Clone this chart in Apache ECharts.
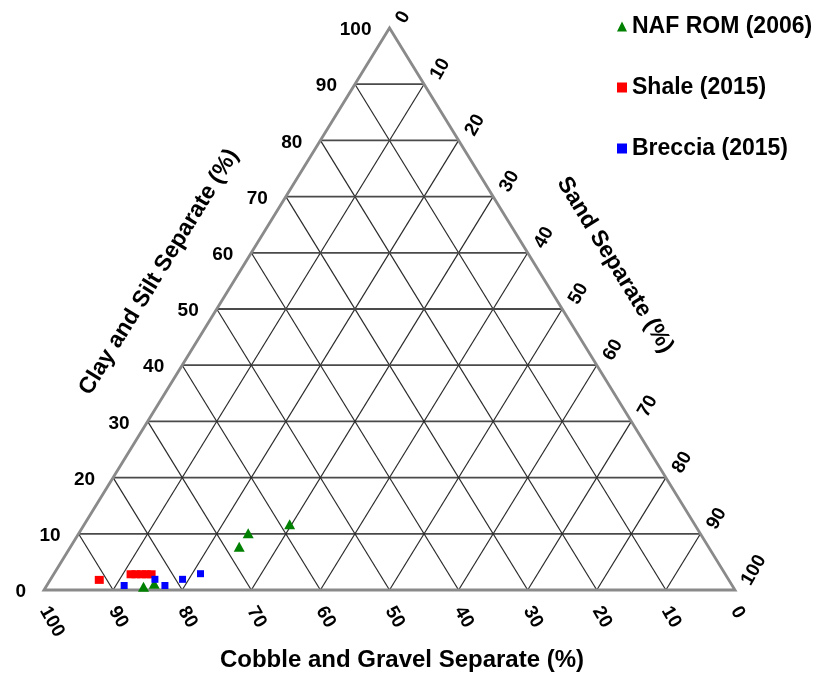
<!DOCTYPE html>
<html>
<head>
<meta charset="utf-8">
<script src="https://cdn.jsdelivr.net/npm/echarts@6/dist/echarts.min.js"></script>
<style>
  html, body { margin: 0; padding: 0; background: #ffffff; }
  #chart { width: 826px; height: 675px; }
</style>
</head>
<body>
<div id="chart"></div>
<script>
// Sample compositions, each as [cobble & gravel, clay & silt, sand] in percent
const nafRom2006 = [
  [65.4, 10.1, 24.5],
  [67.9, 7.7, 24.4],
  [58.6, 11.7, 29.7],
  [85.3, 0.6, 14.1],
  [83.5, 1.1, 15.4]
];
const shale2015 = [
  [91.1, 1.8, 7.1],
  [86.0, 2.8, 11.2],
  [85.3, 2.8, 11.9],
  [84.5, 2.8, 12.7],
  [83.8, 2.8, 13.4],
  [83.1, 2.8, 14.1]
];
const breccia2015 = [
  [88.0, 0.8, 11.2],
  [83.0, 1.9, 15.1],
  [82.1, 0.8, 17.1],
  [79.0, 1.9, 19.1],
  [75.9, 2.9, 21.2]
];
const seriesNames = ['NAF ROM (2006)', 'Shale (2015)', 'Breccia (2015)'];
const tickValues = [0, 10, 20, 30, 40, 50, 60, 70, 80, 90, 100];
const titleBottom = 'Cobble and Gravel Separate (%)';
const titleLeft = 'Clay and Silt Separate (%)';
const titleRight = 'Sand Separate (%)';

const FONT = '"Liberation Sans", Arial, sans-serif';

// Ternary [cobble, clay, sand] -> plane: x runs cobble corner (0) to sand corner (100), y is clay
function toXY(t) {
  const sum = t[0] + t[1] + t[2];
  const clay = t[1] / sum * 100;
  const sand = t[2] / sum * 100;
  return [sand + clay / 2, clay];
}

// Grid lines every 10 %: constant clay, constant sand, constant cobble
const gridLines = [];
for (let k = 10; k < 100; k += 10) {
  let a = toXY([100 - k, k, 0]), b = toXY([0, k, 100 - k]);
  gridLines.push([a[0], a[1], b[0], b[1], 0]);
  a = toXY([100 - k, 0, k]); b = toXY([0, 100 - k, k]);
  gridLines.push([a[0], a[1], b[0], b[1], 1]);
  a = toXY([k, 0, 100 - k]); b = toXY([k, 100 - k, 0]);
  gridLines.push([a[0], a[1], b[0], b[1], 1]);
}
const frame = [toXY([100, 0, 0]), toXY([0, 100, 0]), toXY([0, 0, 100])];

// Tick labels: [x, y, value, side]  side 0 = clay (left), 1 = cobble (bottom), 2 = sand (right)
const tickLabels = [];
tickValues.forEach(function (v) {
  let p = toXY([100 - v, v, 0]);
  tickLabels.push([p[0], p[1], v, 0]);
  p = toXY([v, 0, 100 - v]);
  tickLabels.push([p[0], p[1], v, 1]);
  p = toXY([0, 100 - v, v]);
  tickLabels.push([p[0], p[1], v, 2]);
});

const chart = echarts.init(document.getElementById('chart'), null, { renderer: 'canvas' });

const edgeAngle = Math.atan2(562, 346);

chart.setOption({
  animation: false,
  backgroundColor: '#ffffff',
  grid: { left: 44, right: 91, top: 28, bottom: 85 },
  xAxis: { type: 'value', min: 0, max: 100, show: false },
  yAxis: { type: 'value', min: 0, max: 100, show: false },
  legend: {
    orient: 'vertical',
    left: 612,
    top: 10,
    itemWidth: 10,
    itemHeight: 10,
    itemGap: 38,
    selectedMode: false,
    textStyle: { fontFamily: FONT, fontSize: 23, fontWeight: 'bold', color: '#000', lineHeight: 22 },
    data: [
      { name: seriesNames[0], icon: 'triangle' },
      { name: seriesNames[1], icon: 'rect' },
      { name: seriesNames[2], icon: 'rect' }
    ]
  },
  graphic: [
    {
      type: 'text', x: 402, y: 660, silent: true,
      style: { text: titleBottom, font: 'bold 24px ' + FONT, fill: '#000', align: 'center', verticalAlign: 'middle' }
    },
    {
      type: 'text', x: 159, y: 272, rotation: edgeAngle, silent: true,
      style: { text: titleLeft, font: 'bold 23px ' + FONT, fill: '#000', align: 'center', verticalAlign: 'middle' }
    },
    {
      type: 'text', x: 615, y: 265, rotation: -edgeAngle, silent: true,
      style: { text: titleRight, font: 'bold 23px ' + FONT, fill: '#000', align: 'center', verticalAlign: 'middle' }
    }
  ],
  series: [
    {
      type: 'custom',
      name: 'grid',
      silent: true,
      clip: false,
      z: 1,
      data: gridLines,
      encode: { x: [0, 2], y: [1, 3] },
      renderItem: function (params, api) {
        const p1 = api.coord([api.value(0), api.value(1)]);
        const p2 = api.coord([api.value(2), api.value(3)]);
        const horiz = api.value(4) === 0;
        return {
          type: 'line',
          shape: { x1: p1[0], y1: p1[1], x2: p2[0], y2: p2[1] },
          style: { stroke: horiz ? '#4a4a4a' : '#2a2a2a', lineWidth: horiz ? 1.8 : 1.2 }
        };
      }
    },
    {
      type: 'custom',
      name: 'frame',
      silent: true,
      clip: false,
      z: 2,
      data: [0],
      renderItem: function (params, api) {
        const pts = frame.map(function (p) { return api.coord(p); });
        return {
          type: 'polygon',
          shape: { points: pts },
          style: { fill: 'none', stroke: '#8a8a8a', lineWidth: 2.8, lineJoin: 'miter' }
        };
      }
    },
    {
      type: 'custom',
      name: 'ticks',
      silent: true,
      clip: false,
      z: 3,
      data: tickLabels,
      encode: { x: 0, y: 1 },
      renderItem: function (params, api) {
        const p = api.coord([api.value(0), api.value(1)]);
        const side = api.value(3);
        let x = p[0], y = p[1], rot = 0, align = 'left';
        if (side === 0) { x -= 18; y += 2; align = 'right'; }
        else if (side === 1) { x += 0; y += 18; rot = -Math.PI / 3; }
        else { x += 11; y -= 6; rot = Math.PI / 3; }
        return {
          type: 'text',
          x: x, y: y, rotation: rot,
          style: {
            text: String(api.value(2)),
            font: 'bold 19px ' + FONT,
            fill: '#000',
            align: align,
            verticalAlign: 'middle'
          }
        };
      }
    },
    {
      type: 'scatter',
      name: seriesNames[0],
      z: 4,
      symbol: 'triangle',
      symbolSize: [11, 10],
      itemStyle: { color: '#008000', opacity: 1 },
      data: nafRom2006.map(toXY)
    },
    {
      type: 'scatter',
      name: seriesNames[1],
      z: 5,
      symbol: 'rect',
      symbolSize: [9, 8],
      itemStyle: { color: '#ff0000', opacity: 1 },
      data: shale2015.map(toXY)
    },
    {
      type: 'scatter',
      name: seriesNames[2],
      z: 6,
      symbol: 'rect',
      symbolSize: [7, 7],
      itemStyle: { color: '#0000ff', opacity: 1 },
      data: breccia2015.map(toXY)
    }
  ]
});
</script>
</body>
</html>
